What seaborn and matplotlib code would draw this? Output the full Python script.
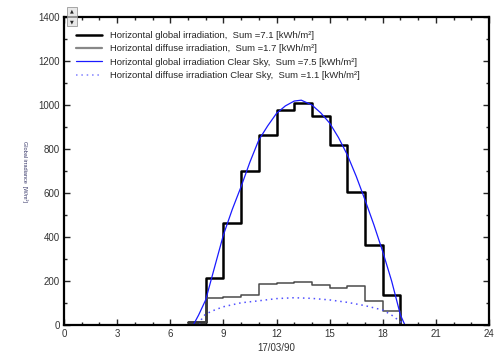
import matplotlib
matplotlib.use("Agg")
import matplotlib.pyplot as plt
import seaborn as sns
import pandas as pd
from matplotlib.ticker import MultipleLocator
from matplotlib.patches import Rectangle

# hourly measured values (start of hour -> W/m2)
step_hours = [7, 8, 9, 10, 11, 12, 13, 14, 15, 16, 17, 18, 19]
global_vals = [12, 215, 465, 700, 864, 977, 1008, 951, 818, 606, 364, 136, 0]
diffuse_vals = [8, 123, 127, 135, 186, 191, 197, 183, 170, 176, 109, 62, 0]

# clear sky model
cs_hours = [7.3, 7.6, 8, 8.5, 9, 9.5, 10, 10.5, 11, 11.5, 12, 12.5, 13, 13.4, 14,
            14.5, 15, 15.5, 16, 16.5, 17, 17.5, 18, 18.5, 19, 19.25]
cs_global = [0, 45, 114, 262, 409, 525, 629, 741, 841, 905, 962, 996, 1018, 1022, 1000,
             964, 918, 852, 773, 676, 568, 455, 333, 200, 45, 0]
csd_hours = [7.65, 7.8, 8, 8.5, 9, 10, 11, 12, 13, 14, 15, 16, 17, 18, 18.5, 19, 19.15]
cs_diffuse = [0, 33, 50, 68, 83, 101, 110, 120, 124, 121, 114, 103, 88, 68, 45, 15, 0]

labels = [
    "Horizontal global irradiation,  Sum =7.1 [kWh/m\u00b2]",
    "Horizontal diffuse irradiation,  Sum =1.7 [kWh/m\u00b2]",
    "Horizontal global irradiation Clear Sky,  Sum =7.5 [kWh/m\u00b2]",
    "Horizontal diffuse irradiation Clear Sky,  Sum =1.1 [kWh/m\u00b2]",
]

sns.set_theme(style="ticks")
plt.rcParams["font.family"] = ["Liberation Sans", "DejaVu Sans"]

fig = plt.figure(figsize=(4.98, 3.53), dpi=100)
ax = fig.add_axes([0.1285, 0.0793, 0.8535, 0.8725])

meas = pd.DataFrame({"hour": step_hours, "glob": global_vals, "diff": diffuse_vals})
sns.lineplot(data=meas, x="hour", y="glob", ax=ax, color="black", lw=1.8,
             drawstyle="steps-post", label=labels[0])
sns.lineplot(data=meas, x="hour", y="diff", ax=ax, color="#4a4a4a", lw=1.1,
             drawstyle="steps-post", label=labels[1])
sns.lineplot(x=cs_hours, y=cs_global, ax=ax, color="#1a1aff", lw=0.9, label=labels[2])
sns.lineplot(x=csd_hours, y=cs_diffuse, ax=ax, color="#5050ff", lw=1.1,
             linestyle=(0, (1, 2.5)), label=labels[3])

ax.set_xlim(0, 24)
ax.set_ylim(0, 1400)
ax.xaxis.set_major_locator(MultipleLocator(3))
ax.xaxis.set_minor_locator(MultipleLocator(1))
ax.yaxis.set_major_locator(MultipleLocator(200))
ax.yaxis.set_minor_locator(MultipleLocator(100))
ax.tick_params(which="both", direction="in", top=True, right=True,
               labelsize=7, labelcolor="#333333", width=1, pad=3)
ax.tick_params(which="major", length=4)
ax.tick_params(which="minor", length=2.5)
for s in ax.spines.values():
    s.set_linewidth(1.6)
    s.set_color("black")

ax.set_xlabel("17/03/90", fontsize=7, color="#333333", labelpad=3)
ax.set_ylabel("Global irradiance  [W/m\u00b2]", fontsize=4, rotation=270,
              color="#333366")
ax.yaxis.set_label_coords(-0.098, 0.5)

leg = ax.legend(loc="upper left", frameon=False, fontsize=6.8, handlelength=2.75,
                handletextpad=0.85, labelspacing=0.45, borderaxespad=0.6,
                bbox_to_anchor=(0.005, 0.985))
leg.get_lines()[1].set_color("#888888")
leg.get_lines()[1].set_linewidth(1.6)
leg.get_lines()[3].set_color("#8080ff")

# small scroll buttons at the top-left corner
for y0, sym in [(0.955, "\u25b2"), (0.925, "\u25bc")]:
    fig.patches.append(Rectangle((0.134, y0), 0.021, 0.026, transform=fig.transFigure,
                                 facecolor="#e8e8e8", edgecolor="#999999", lw=0.6))
    fig.text(0.1445, y0 + 0.013, sym, fontsize=3.5, ha="center", va="center",
             family=["DejaVu Sans"])

fig.savefig("out.png", dpi=100)
